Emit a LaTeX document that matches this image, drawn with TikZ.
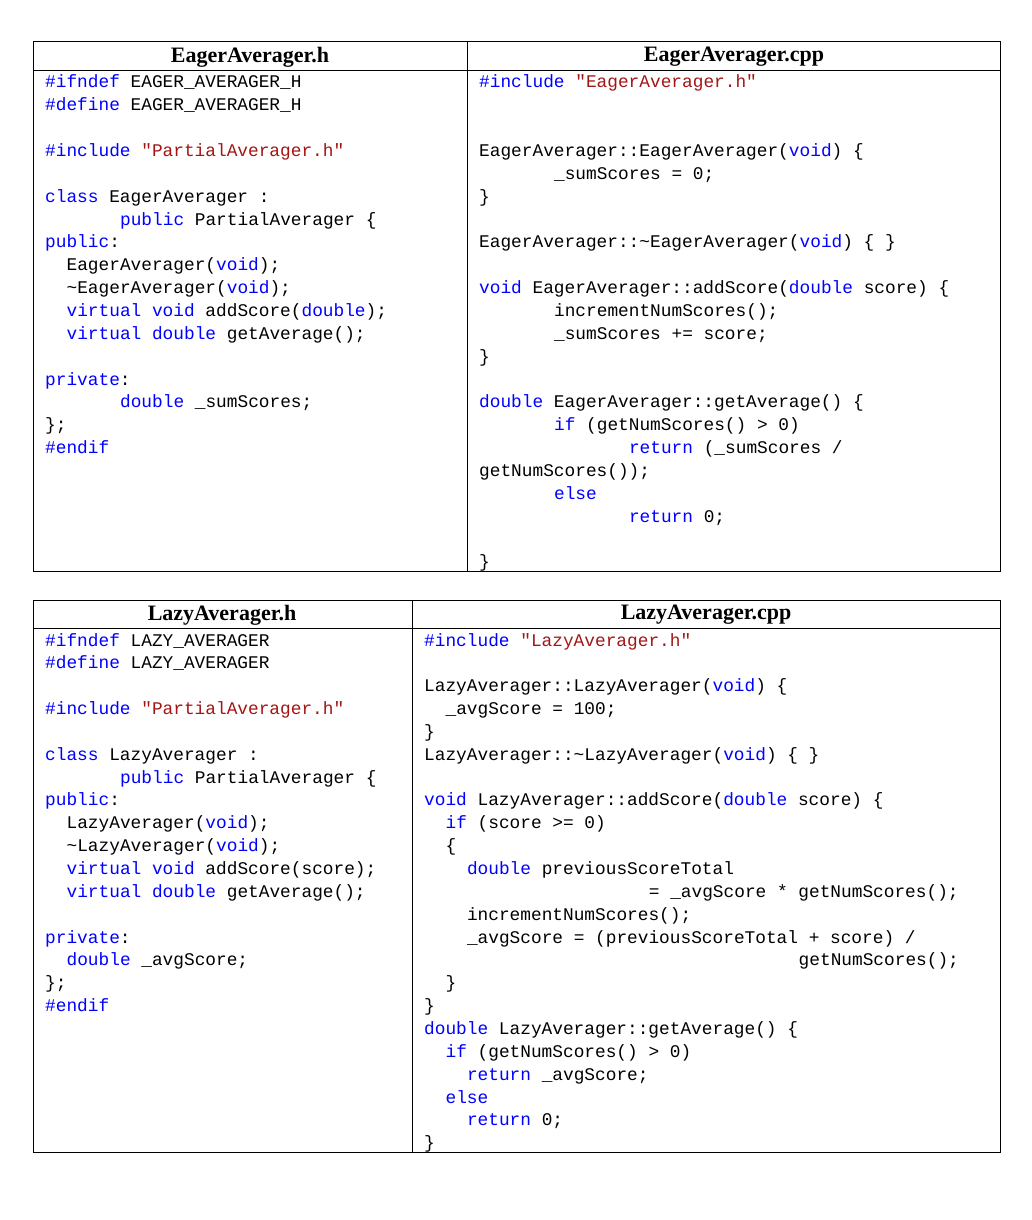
\documentclass[tikz,border=0pt]{standalone}
\usepackage{fontspec}
\setmainfont{Liberation Serif}
\setmonofont{Liberation Mono}
\definecolor{kwblue}{RGB}{0,0,255}
\definecolor{strred}{RGB}{163,21,21}
\newcommand\kw[1]{\textcolor{kwblue}{#1}}
\newcommand\st[1]{\textcolor{strred}{#1}}
\newcommand\tl{\textasciitilde}
% \cl{name}{x0}{y0}{indent}{line}{text}
\newcommand\cl[6]{\node[code] (#1) at ({#2+10.7*#4},{#3+22.85*#5}) {#6};}
\begin{document}
\begin{tikzpicture}[x=1pt,y=-1pt,
  code/.style={anchor=base west,inner sep=0pt,font=\ttfamily\fontsize{17.8}{20}\selectfont},
  head/.style={anchor=center,inner sep=0pt,font=\bfseries\fontsize{22}{24}\selectfont},
  frame/.style={draw=black,line width=0.8pt}]
\useasboundingbox (0,0) rectangle (1032,1220);
% table 1
\draw[frame] (33,41) rectangle (1000,571);
\draw[frame] (33,70) -- (1000,70);
\draw[frame] (467,41) -- (467,571);
\node[head] (h1) at (250,57) {EagerAverager.h};
\node[head] (h2) at (734,57) {EagerAverager.cpp};
% table 2
\draw[frame] (33,600) rectangle (1000,1152);
\draw[frame] (33,628) -- (1000,628);
\draw[frame] (412,600) -- (412,1152);
\node[head] (h3) at (222,615) {LazyAverager.h};
\node[head] (h4) at (706,615) {LazyAverager.cpp};
% EagerAverager.h
\def\X{45}\def\Y{88}
\cl{a0}{\X}{\Y}{0}{0}{\kw{\#ifndef} EAGER\_AVERAGER\_H}
\cl{a1}{\X}{\Y}{0}{1}{\kw{\#define} EAGER\_AVERAGER\_H}
\cl{a3}{\X}{\Y}{0}{3}{\kw{\#include} \st{"PartialAverager.h"}}
\cl{a5}{\X}{\Y}{0}{5}{\kw{class} EagerAverager :}
\cl{a6}{\X}{\Y}{7}{6}{\kw{public} PartialAverager \{}
\cl{a7}{\X}{\Y}{0}{7}{\kw{public}:}
\cl{a8}{\X}{\Y}{2}{8}{EagerAverager(\kw{void});}
\cl{a9}{\X}{\Y}{2}{9}{\tl EagerAverager(\kw{void});}
\cl{a10}{\X}{\Y}{2}{10}{\kw{virtual} \kw{void} addScore(\kw{double});}
\cl{a11}{\X}{\Y}{2}{11}{\kw{virtual} \kw{double} getAverage();}
\cl{a13}{\X}{\Y}{0}{13}{\kw{private}:}
\cl{a14}{\X}{\Y}{7}{14}{\kw{double} \_sumScores;}
\cl{a15}{\X}{\Y}{0}{15}{\};}
\cl{a16}{\X}{\Y}{0}{16}{\kw{\#endif}}
% EagerAverager.cpp
\def\X{479}
\cl{b0}{\X}{\Y}{0}{0}{\kw{\#include} \st{"EagerAverager.h"}}
\cl{b3}{\X}{\Y}{0}{3}{EagerAverager::EagerAverager(\kw{void}) \{}
\cl{b4}{\X}{\Y}{7}{4}{\_sumScores = 0;}
\cl{b5}{\X}{\Y}{0}{5}{\}}
\cl{b7}{\X}{\Y}{0}{7}{EagerAverager::\tl EagerAverager(\kw{void}) \{ \}}
\cl{b9}{\X}{\Y}{0}{9}{\kw{void} EagerAverager::addScore(\kw{double} score) \{}
\cl{b10}{\X}{\Y}{7}{10}{incrementNumScores();}
\cl{b11}{\X}{\Y}{7}{11}{\_sumScores += score;}
\cl{b12}{\X}{\Y}{0}{12}{\}}
\cl{b14}{\X}{\Y}{0}{14}{\kw{double} EagerAverager::getAverage() \{}
\cl{b15}{\X}{\Y}{7}{15}{\kw{if} (getNumScores() > 0)}
\cl{b16}{\X}{\Y}{14}{16}{\kw{return} (\_sumScores /}
\cl{b17}{\X}{\Y}{0}{17}{getNumScores());}
\cl{b18}{\X}{\Y}{7}{18}{\kw{else}}
\cl{b19}{\X}{\Y}{14}{19}{\kw{return} 0;}
\cl{b21}{\X}{\Y}{0}{21}{\}}
% LazyAverager.h
\def\X{45}\def\Y{646}
\cl{c0}{\X}{\Y}{0}{0}{\kw{\#ifndef} LAZY\_AVERAGER}
\cl{c1}{\X}{\Y}{0}{1}{\kw{\#define} LAZY\_AVERAGER}
\cl{c3}{\X}{\Y}{0}{3}{\kw{\#include} \st{"PartialAverager.h"}}
\cl{c5}{\X}{\Y}{0}{5}{\kw{class} LazyAverager :}
\cl{c6}{\X}{\Y}{7}{6}{\kw{public} PartialAverager \{}
\cl{c7}{\X}{\Y}{0}{7}{\kw{public}:}
\cl{c8}{\X}{\Y}{2}{8}{LazyAverager(\kw{void});}
\cl{c9}{\X}{\Y}{2}{9}{\tl LazyAverager(\kw{void});}
\cl{c10}{\X}{\Y}{2}{10}{\kw{virtual} \kw{void} addScore(score);}
\cl{c11}{\X}{\Y}{2}{11}{\kw{virtual} \kw{double} getAverage();}
\cl{c13}{\X}{\Y}{0}{13}{\kw{private}:}
\cl{c14}{\X}{\Y}{2}{14}{\kw{double} \_avgScore;}
\cl{c15}{\X}{\Y}{0}{15}{\};}
\cl{c16}{\X}{\Y}{0}{16}{\kw{\#endif}}
% LazyAverager.cpp
\def\X{424}
\cl{d0}{\X}{\Y}{0}{0}{\kw{\#include} \st{"LazyAverager.h"}}
\cl{d2}{\X}{\Y}{0}{2}{LazyAverager::LazyAverager(\kw{void}) \{}
\cl{d3}{\X}{\Y}{2}{3}{\_avgScore = 100;}
\cl{d4}{\X}{\Y}{0}{4}{\}}
\cl{d5}{\X}{\Y}{0}{5}{LazyAverager::\tl LazyAverager(\kw{void}) \{ \}}
\cl{d7}{\X}{\Y}{0}{7}{\kw{void} LazyAverager::addScore(\kw{double} score) \{}
\cl{d8}{\X}{\Y}{2}{8}{\kw{if} (score >= 0)}
\cl{d9}{\X}{\Y}{2}{9}{\{}
\cl{d10}{\X}{\Y}{4}{10}{\kw{double} previousScoreTotal}
\cl{d11}{\X}{\Y}{21}{11}{= \_avgScore * getNumScores();}
\cl{d12}{\X}{\Y}{4}{12}{incrementNumScores();}
\cl{d13}{\X}{\Y}{4}{13}{\_avgScore = (previousScoreTotal + score) /}
\cl{d14}{\X}{\Y}{35}{14}{getNumScores();}
\cl{d15}{\X}{\Y}{2}{15}{\}}
\cl{d16}{\X}{\Y}{0}{16}{\}}
\cl{d17}{\X}{\Y}{0}{17}{\kw{double} LazyAverager::getAverage() \{}
\cl{d18}{\X}{\Y}{2}{18}{\kw{if} (getNumScores() > 0)}
\cl{d19}{\X}{\Y}{4}{19}{\kw{return} \_avgScore;}
\cl{d20}{\X}{\Y}{2}{20}{\kw{else}}
\cl{d21}{\X}{\Y}{4}{21}{\kw{return} 0;}
\cl{d22}{\X}{\Y}{0}{22}{\}}
\end{tikzpicture}
\end{document}
